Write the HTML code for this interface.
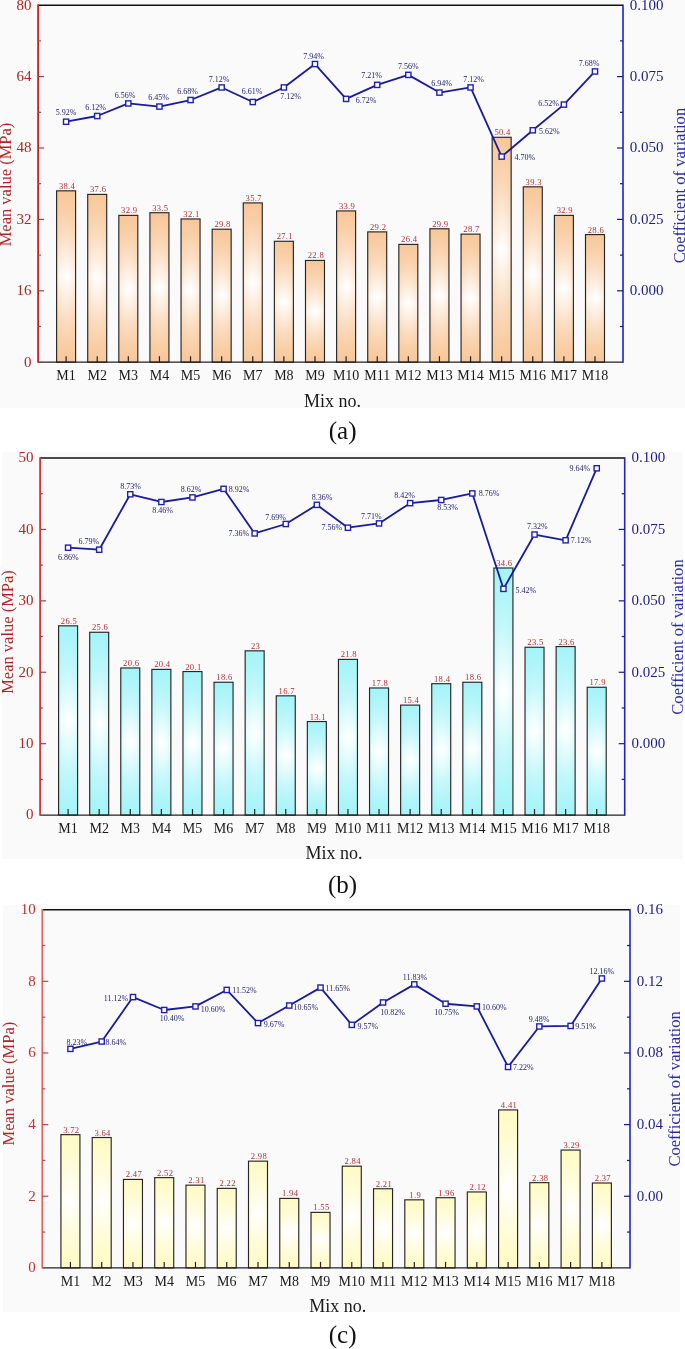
<!DOCTYPE html>
<html><head><meta charset="utf-8"><style>
html,body{margin:0;padding:0;background:#fff;}
svg{display:block;will-change:transform;}
text{font-family:"Liberation Serif",serif;}
.bl{font-size:8.6px;fill:#b03030;text-anchor:middle;letter-spacing:0.3px;}
.ll{font-size:15px;text-anchor:end;}
.rl{font-size:15px;fill:#1c1c8c;text-anchor:start;}
.xl{font-size:14px;fill:#1a1a1a;text-anchor:middle;}
.cv{font-size:8px;fill:#23236e;text-anchor:middle;}
.mix{font-size:18px;fill:#1a1a1a;text-anchor:middle;}
.yt{font-size:16.5px;fill:#b22424;text-anchor:middle;}
.rt{font-size:16.6px;fill:#2a2ab0;text-anchor:middle;}
.tag{font-size:25px;fill:#111;text-anchor:middle;}
</style></head>
<body><svg width="685" height="1349" viewBox="0 0 685 1349">
<defs><linearGradient id="ga" x1="0" y1="0" x2="0" y2="1"><stop offset="0.00" stop-color="#f8c799"/><stop offset="0.10" stop-color="#f9cea5"/><stop offset="0.25" stop-color="#fbddc2"/><stop offset="0.38" stop-color="#fdefe2"/><stop offset="0.50" stop-color="#ffffff"/><stop offset="0.62" stop-color="#fdefe2"/><stop offset="0.75" stop-color="#fbddc2"/><stop offset="0.90" stop-color="#f9cea5"/><stop offset="1.00" stop-color="#f8c799"/></linearGradient>
<linearGradient id="ha" x1="0" y1="0" x2="1" y2="0"><stop offset="0" stop-color="#f8c799" stop-opacity="0.3"/><stop offset="0.3" stop-color="#f8c799" stop-opacity="0.06"/><stop offset="0.5" stop-color="#f8c799" stop-opacity="0"/><stop offset="0.7" stop-color="#f8c799" stop-opacity="0.06"/><stop offset="1" stop-color="#f8c799" stop-opacity="0.3"/></linearGradient>
<clipPath id="clipa"><rect x="0" y="0" width="685" height="408"/></clipPath>
<linearGradient id="gb" x1="0" y1="0" x2="0" y2="1"><stop offset="0.00" stop-color="#a4f4f8"/><stop offset="0.10" stop-color="#aff5f9"/><stop offset="0.25" stop-color="#c8f8fb"/><stop offset="0.38" stop-color="#e6fcfd"/><stop offset="0.50" stop-color="#ffffff"/><stop offset="0.62" stop-color="#e6fcfd"/><stop offset="0.75" stop-color="#c8f8fb"/><stop offset="0.90" stop-color="#aff5f9"/><stop offset="1.00" stop-color="#a4f4f8"/></linearGradient>
<linearGradient id="hb" x1="0" y1="0" x2="1" y2="0"><stop offset="0" stop-color="#a4f4f8" stop-opacity="0.3"/><stop offset="0.3" stop-color="#a4f4f8" stop-opacity="0.06"/><stop offset="0.5" stop-color="#a4f4f8" stop-opacity="0"/><stop offset="0.7" stop-color="#a4f4f8" stop-opacity="0.06"/><stop offset="1" stop-color="#a4f4f8" stop-opacity="0.3"/></linearGradient>
<clipPath id="clipb"><rect x="2" y="452" width="681" height="407"/></clipPath>
<linearGradient id="gc" x1="0" y1="0" x2="0" y2="1"><stop offset="0.00" stop-color="#fffac4"/><stop offset="0.10" stop-color="#fffbcb"/><stop offset="0.25" stop-color="#fffcdc"/><stop offset="0.38" stop-color="#fffeee"/><stop offset="0.50" stop-color="#ffffff"/><stop offset="0.62" stop-color="#fffeee"/><stop offset="0.75" stop-color="#fffcdc"/><stop offset="0.90" stop-color="#fffbcb"/><stop offset="1.00" stop-color="#fffac4"/></linearGradient>
<linearGradient id="hc" x1="0" y1="0" x2="1" y2="0"><stop offset="0" stop-color="#fffac4" stop-opacity="0.3"/><stop offset="0.3" stop-color="#fffac4" stop-opacity="0.06"/><stop offset="0.5" stop-color="#fffac4" stop-opacity="0"/><stop offset="0.7" stop-color="#fffac4" stop-opacity="0.06"/><stop offset="1" stop-color="#fffac4" stop-opacity="0.3"/></linearGradient>
<clipPath id="clipc"><rect x="3" y="905" width="677" height="407"/></clipPath></defs>
<rect width="685" height="1349" fill="#fff"/>
<g><rect x="0" y="0" width="685" height="408" fill="#fafafa"/>
<rect x="56.60" y="190.84" width="19.00" height="171.36" fill="url(#ga)"/>
<rect x="56.60" y="190.84" width="19.00" height="171.36" fill="url(#ha)" stroke="#262626" stroke-width="1.15"/>
<text x="67.00" y="188.84" class="bl">38.4</text>
<rect x="87.71" y="194.41" width="19.00" height="167.79" fill="url(#ga)"/>
<rect x="87.71" y="194.41" width="19.00" height="167.79" fill="url(#ha)" stroke="#262626" stroke-width="1.15"/>
<text x="98.11" y="192.41" class="bl">37.6</text>
<rect x="118.82" y="215.38" width="19.00" height="146.82" fill="url(#ga)"/>
<rect x="118.82" y="215.38" width="19.00" height="146.82" fill="url(#ha)" stroke="#262626" stroke-width="1.15"/>
<text x="129.22" y="213.38" class="bl">32.9</text>
<rect x="149.94" y="212.71" width="19.00" height="149.49" fill="url(#ga)"/>
<rect x="149.94" y="212.71" width="19.00" height="149.49" fill="url(#ha)" stroke="#262626" stroke-width="1.15"/>
<text x="160.34" y="210.71" class="bl">33.5</text>
<rect x="181.05" y="218.95" width="19.00" height="143.25" fill="url(#ga)"/>
<rect x="181.05" y="218.95" width="19.00" height="143.25" fill="url(#ha)" stroke="#262626" stroke-width="1.15"/>
<text x="191.45" y="216.95" class="bl">32.1</text>
<rect x="212.16" y="229.22" width="19.00" height="132.98" fill="url(#ga)"/>
<rect x="212.16" y="229.22" width="19.00" height="132.98" fill="url(#ha)" stroke="#262626" stroke-width="1.15"/>
<text x="222.56" y="227.22" class="bl">29.8</text>
<rect x="243.27" y="202.89" width="19.00" height="159.31" fill="url(#ga)"/>
<rect x="243.27" y="202.89" width="19.00" height="159.31" fill="url(#ha)" stroke="#262626" stroke-width="1.15"/>
<text x="253.67" y="200.89" class="bl">35.7</text>
<rect x="274.38" y="241.27" width="19.00" height="120.93" fill="url(#ga)"/>
<rect x="274.38" y="241.27" width="19.00" height="120.93" fill="url(#ha)" stroke="#262626" stroke-width="1.15"/>
<text x="284.78" y="239.27" class="bl">27.1</text>
<rect x="305.49" y="260.45" width="19.00" height="101.75" fill="url(#ga)"/>
<rect x="305.49" y="260.45" width="19.00" height="101.75" fill="url(#ha)" stroke="#262626" stroke-width="1.15"/>
<text x="315.89" y="258.45" class="bl">22.8</text>
<rect x="336.61" y="210.92" width="19.00" height="151.28" fill="url(#ga)"/>
<rect x="336.61" y="210.92" width="19.00" height="151.28" fill="url(#ha)" stroke="#262626" stroke-width="1.15"/>
<text x="347.01" y="208.92" class="bl">33.9</text>
<rect x="367.72" y="231.89" width="19.00" height="130.31" fill="url(#ga)"/>
<rect x="367.72" y="231.89" width="19.00" height="130.31" fill="url(#ha)" stroke="#262626" stroke-width="1.15"/>
<text x="378.12" y="229.89" class="bl">29.2</text>
<rect x="398.83" y="244.39" width="19.00" height="117.81" fill="url(#ga)"/>
<rect x="398.83" y="244.39" width="19.00" height="117.81" fill="url(#ha)" stroke="#262626" stroke-width="1.15"/>
<text x="409.23" y="242.39" class="bl">26.4</text>
<rect x="429.94" y="228.77" width="19.00" height="133.43" fill="url(#ga)"/>
<rect x="429.94" y="228.77" width="19.00" height="133.43" fill="url(#ha)" stroke="#262626" stroke-width="1.15"/>
<text x="440.34" y="226.77" class="bl">29.9</text>
<rect x="461.05" y="234.13" width="19.00" height="128.07" fill="url(#ga)"/>
<rect x="461.05" y="234.13" width="19.00" height="128.07" fill="url(#ha)" stroke="#262626" stroke-width="1.15"/>
<text x="471.45" y="232.13" class="bl">28.7</text>
<rect x="492.16" y="137.29" width="19.00" height="224.91" fill="url(#ga)"/>
<rect x="492.16" y="137.29" width="19.00" height="224.91" fill="url(#ha)" stroke="#262626" stroke-width="1.15"/>
<text x="502.56" y="135.29" class="bl">50.4</text>
<rect x="523.28" y="186.82" width="19.00" height="175.38" fill="url(#ga)"/>
<rect x="523.28" y="186.82" width="19.00" height="175.38" fill="url(#ha)" stroke="#262626" stroke-width="1.15"/>
<text x="533.68" y="184.82" class="bl">39.3</text>
<rect x="554.39" y="215.38" width="19.00" height="146.82" fill="url(#ga)"/>
<rect x="554.39" y="215.38" width="19.00" height="146.82" fill="url(#ha)" stroke="#262626" stroke-width="1.15"/>
<text x="564.79" y="213.38" class="bl">32.9</text>
<rect x="585.50" y="234.57" width="19.00" height="127.63" fill="url(#ga)"/>
<rect x="585.50" y="234.57" width="19.00" height="127.63" fill="url(#ha)" stroke="#262626" stroke-width="1.15"/>
<text x="595.90" y="232.57" class="bl">28.6</text>
<line x1="66.10" y1="362.20" x2="66.10" y2="356.20" stroke="#222" stroke-width="1.2"/>
<line x1="97.21" y1="362.20" x2="97.21" y2="356.20" stroke="#222" stroke-width="1.2"/>
<line x1="128.32" y1="362.20" x2="128.32" y2="356.20" stroke="#222" stroke-width="1.2"/>
<line x1="159.44" y1="362.20" x2="159.44" y2="356.20" stroke="#222" stroke-width="1.2"/>
<line x1="190.55" y1="362.20" x2="190.55" y2="356.20" stroke="#222" stroke-width="1.2"/>
<line x1="221.66" y1="362.20" x2="221.66" y2="356.20" stroke="#222" stroke-width="1.2"/>
<line x1="252.77" y1="362.20" x2="252.77" y2="356.20" stroke="#222" stroke-width="1.2"/>
<line x1="283.88" y1="362.20" x2="283.88" y2="356.20" stroke="#222" stroke-width="1.2"/>
<line x1="314.99" y1="362.20" x2="314.99" y2="356.20" stroke="#222" stroke-width="1.2"/>
<line x1="346.11" y1="362.20" x2="346.11" y2="356.20" stroke="#222" stroke-width="1.2"/>
<line x1="377.22" y1="362.20" x2="377.22" y2="356.20" stroke="#222" stroke-width="1.2"/>
<line x1="408.33" y1="362.20" x2="408.33" y2="356.20" stroke="#222" stroke-width="1.2"/>
<line x1="439.44" y1="362.20" x2="439.44" y2="356.20" stroke="#222" stroke-width="1.2"/>
<line x1="470.55" y1="362.20" x2="470.55" y2="356.20" stroke="#222" stroke-width="1.2"/>
<line x1="501.66" y1="362.20" x2="501.66" y2="356.20" stroke="#222" stroke-width="1.2"/>
<line x1="532.78" y1="362.20" x2="532.78" y2="356.20" stroke="#222" stroke-width="1.2"/>
<line x1="563.89" y1="362.20" x2="563.89" y2="356.20" stroke="#222" stroke-width="1.2"/>
<line x1="595.00" y1="362.20" x2="595.00" y2="356.20" stroke="#222" stroke-width="1.2"/>
<line x1="38.10" y1="5.20" x2="623.00" y2="5.20" stroke="#111" stroke-width="1.5"/>
<line x1="38.10" y1="362.20" x2="623.00" y2="362.20" stroke="#222" stroke-width="1.3"/>
<line x1="38.10" y1="4.45" x2="38.10" y2="362.80" stroke="#d01c24" stroke-width="1.8"/>
<text x="31.50" y="366.50" class="ll" fill="#b22424">0</text>
<line x1="38.10" y1="326.50" x2="41.10" y2="326.50" stroke="#a04040" stroke-width="1.2"/>
<line x1="38.10" y1="290.80" x2="44.10" y2="290.80" stroke="#a04040" stroke-width="1.2"/>
<text x="31.50" y="295.10" class="ll" fill="#b22424">16</text>
<line x1="38.10" y1="255.10" x2="41.10" y2="255.10" stroke="#a04040" stroke-width="1.2"/>
<line x1="38.10" y1="219.40" x2="44.10" y2="219.40" stroke="#a04040" stroke-width="1.2"/>
<text x="31.50" y="223.70" class="ll" fill="#b22424">32</text>
<line x1="38.10" y1="183.70" x2="41.10" y2="183.70" stroke="#a04040" stroke-width="1.2"/>
<line x1="38.10" y1="148.00" x2="44.10" y2="148.00" stroke="#a04040" stroke-width="1.2"/>
<text x="31.50" y="152.30" class="ll" fill="#b22424">48</text>
<line x1="38.10" y1="112.30" x2="41.10" y2="112.30" stroke="#a04040" stroke-width="1.2"/>
<line x1="38.10" y1="76.60" x2="44.10" y2="76.60" stroke="#a04040" stroke-width="1.2"/>
<text x="31.50" y="80.90" class="ll" fill="#b22424">64</text>
<line x1="38.10" y1="40.90" x2="41.10" y2="40.90" stroke="#a04040" stroke-width="1.2"/>
<text x="31.50" y="9.50" class="ll" fill="#b22424">80</text>
<line x1="623.00" y1="4.45" x2="623.00" y2="362.80" stroke="#2222c8" stroke-width="1.6"/>
<line x1="623.00" y1="326.50" x2="620.00" y2="326.50" stroke="#1a1a80" stroke-width="1.2"/>
<line x1="623.00" y1="290.80" x2="617.00" y2="290.80" stroke="#1a1a80" stroke-width="1.2"/>
<text x="629.80" y="295.10" class="rl">0.000</text>
<line x1="623.00" y1="255.10" x2="620.00" y2="255.10" stroke="#1a1a80" stroke-width="1.2"/>
<line x1="623.00" y1="219.40" x2="617.00" y2="219.40" stroke="#1a1a80" stroke-width="1.2"/>
<text x="629.80" y="223.70" class="rl">0.025</text>
<line x1="623.00" y1="183.70" x2="620.00" y2="183.70" stroke="#1a1a80" stroke-width="1.2"/>
<line x1="623.00" y1="148.00" x2="617.00" y2="148.00" stroke="#1a1a80" stroke-width="1.2"/>
<text x="629.80" y="152.30" class="rl">0.050</text>
<line x1="623.00" y1="112.30" x2="620.00" y2="112.30" stroke="#1a1a80" stroke-width="1.2"/>
<line x1="623.00" y1="76.60" x2="617.00" y2="76.60" stroke="#1a1a80" stroke-width="1.2"/>
<text x="629.80" y="80.90" class="rl">0.075</text>
<line x1="623.00" y1="40.90" x2="620.00" y2="40.90" stroke="#1a1a80" stroke-width="1.2"/>
<text x="629.80" y="9.50" class="rl">0.100</text>
<text x="66.10" y="380.20" class="xl">M1</text>
<text x="97.21" y="380.20" class="xl">M2</text>
<text x="128.32" y="380.20" class="xl">M3</text>
<text x="159.44" y="380.20" class="xl">M4</text>
<text x="190.55" y="380.20" class="xl">M5</text>
<text x="221.66" y="380.20" class="xl">M6</text>
<text x="252.77" y="380.20" class="xl">M7</text>
<text x="283.88" y="380.20" class="xl">M8</text>
<text x="314.99" y="380.20" class="xl">M9</text>
<text x="346.11" y="380.20" class="xl">M10</text>
<text x="377.22" y="380.20" class="xl">M11</text>
<text x="408.33" y="380.20" class="xl">M12</text>
<text x="439.44" y="380.20" class="xl">M13</text>
<text x="470.55" y="380.20" class="xl">M14</text>
<text x="501.66" y="380.20" class="xl">M15</text>
<text x="532.78" y="380.20" class="xl">M16</text>
<text x="563.89" y="380.20" class="xl">M17</text>
<text x="595.00" y="380.20" class="xl">M18</text>
<polyline points="66.10,121.72 97.21,116.01 128.32,103.45 159.44,106.59 190.55,100.02 221.66,87.45 252.77,102.02 283.88,87.45 314.99,64.03 346.11,98.88 377.22,84.88 408.33,74.89 439.44,92.59 470.55,87.45 501.66,156.57 532.78,130.29 563.89,104.59 595.00,71.46" fill="none" stroke="#1a1aa0" stroke-width="1.8" stroke-linejoin="round"/>
<rect x="63.50" y="119.12" width="5.2" height="5.2" fill="#fff" stroke="#2020b8" stroke-width="1.4"/>
<rect x="94.61" y="113.41" width="5.2" height="5.2" fill="#fff" stroke="#2020b8" stroke-width="1.4"/>
<rect x="125.72" y="100.85" width="5.2" height="5.2" fill="#fff" stroke="#2020b8" stroke-width="1.4"/>
<rect x="156.84" y="103.99" width="5.2" height="5.2" fill="#fff" stroke="#2020b8" stroke-width="1.4"/>
<rect x="187.95" y="97.42" width="5.2" height="5.2" fill="#fff" stroke="#2020b8" stroke-width="1.4"/>
<rect x="219.06" y="84.85" width="5.2" height="5.2" fill="#fff" stroke="#2020b8" stroke-width="1.4"/>
<rect x="250.17" y="99.42" width="5.2" height="5.2" fill="#fff" stroke="#2020b8" stroke-width="1.4"/>
<rect x="281.28" y="84.85" width="5.2" height="5.2" fill="#fff" stroke="#2020b8" stroke-width="1.4"/>
<rect x="312.39" y="61.43" width="5.2" height="5.2" fill="#fff" stroke="#2020b8" stroke-width="1.4"/>
<rect x="343.51" y="96.28" width="5.2" height="5.2" fill="#fff" stroke="#2020b8" stroke-width="1.4"/>
<rect x="374.62" y="82.28" width="5.2" height="5.2" fill="#fff" stroke="#2020b8" stroke-width="1.4"/>
<rect x="405.73" y="72.29" width="5.2" height="5.2" fill="#fff" stroke="#2020b8" stroke-width="1.4"/>
<rect x="436.84" y="89.99" width="5.2" height="5.2" fill="#fff" stroke="#2020b8" stroke-width="1.4"/>
<rect x="467.95" y="84.85" width="5.2" height="5.2" fill="#fff" stroke="#2020b8" stroke-width="1.4"/>
<rect x="499.06" y="153.97" width="5.2" height="5.2" fill="#fff" stroke="#2020b8" stroke-width="1.4"/>
<rect x="530.18" y="127.69" width="5.2" height="5.2" fill="#fff" stroke="#2020b8" stroke-width="1.4"/>
<rect x="561.29" y="101.99" width="5.2" height="5.2" fill="#fff" stroke="#2020b8" stroke-width="1.4"/>
<rect x="592.40" y="68.86" width="5.2" height="5.2" fill="#fff" stroke="#2020b8" stroke-width="1.4"/>
<text x="66.00" y="115.10" class="cv">5.92%</text>
<text x="95.50" y="109.70" class="cv">6.12%</text>
<text x="125.10" y="98.10" class="cv">6.56%</text>
<text x="158.50" y="100.10" class="cv">6.45%</text>
<text x="187.50" y="93.70" class="cv">6.68%</text>
<text x="219.00" y="82.00" class="cv">7.12%</text>
<text x="252.00" y="94.20" class="cv">6.61%</text>
<text x="290.50" y="98.80" class="cv">7.12%</text>
<text x="313.60" y="59.20" class="cv">7.94%</text>
<text x="366.00" y="103.10" class="cv">6.72%</text>
<text x="371.70" y="78.30" class="cv">7.21%</text>
<text x="408.30" y="69.20" class="cv">7.56%</text>
<text x="441.50" y="86.00" class="cv">6.94%</text>
<text x="473.50" y="82.40" class="cv">7.12%</text>
<text x="524.80" y="159.60" class="cv">4.70%</text>
<text x="549.40" y="134.40" class="cv">5.62%</text>
<text x="548.70" y="105.90" class="cv">6.52%</text>
<text x="589.00" y="65.90" class="cv">7.68%</text>
<text x="332.40" y="406.90" class="mix" clip-path="url(#clipa)">Mix no.</text>
<text transform="translate(11.10 184.50) rotate(-90)" class="yt">Mean value (MPa)</text>
<text transform="translate(684.80 185.50) rotate(-90)" class="rt">Coefficient of variation</text></g>
<text x="342.60" y="438.80" class="tag">(a)</text>
<g><rect x="2" y="452" width="681" height="407" fill="#fafafa"/>
<rect x="58.59" y="625.84" width="19.00" height="189.26" fill="url(#gb)"/>
<rect x="58.59" y="625.84" width="19.00" height="189.26" fill="url(#hb)" stroke="#262626" stroke-width="1.15"/>
<text x="68.99" y="623.84" class="bl">26.5</text>
<rect x="89.68" y="632.26" width="19.00" height="182.84" fill="url(#gb)"/>
<rect x="89.68" y="632.26" width="19.00" height="182.84" fill="url(#hb)" stroke="#262626" stroke-width="1.15"/>
<text x="100.08" y="630.26" class="bl">25.6</text>
<rect x="120.78" y="667.97" width="19.00" height="147.13" fill="url(#gb)"/>
<rect x="120.78" y="667.97" width="19.00" height="147.13" fill="url(#hb)" stroke="#262626" stroke-width="1.15"/>
<text x="131.18" y="665.97" class="bl">20.6</text>
<rect x="151.87" y="669.40" width="19.00" height="145.70" fill="url(#gb)"/>
<rect x="151.87" y="669.40" width="19.00" height="145.70" fill="url(#hb)" stroke="#262626" stroke-width="1.15"/>
<text x="162.27" y="667.40" class="bl">20.4</text>
<rect x="182.97" y="671.55" width="19.00" height="143.55" fill="url(#gb)"/>
<rect x="182.97" y="671.55" width="19.00" height="143.55" fill="url(#hb)" stroke="#262626" stroke-width="1.15"/>
<text x="193.37" y="669.55" class="bl">20.1</text>
<rect x="214.06" y="682.26" width="19.00" height="132.84" fill="url(#gb)"/>
<rect x="214.06" y="682.26" width="19.00" height="132.84" fill="url(#hb)" stroke="#262626" stroke-width="1.15"/>
<text x="224.46" y="680.26" class="bl">18.6</text>
<rect x="245.16" y="650.83" width="19.00" height="164.27" fill="url(#gb)"/>
<rect x="245.16" y="650.83" width="19.00" height="164.27" fill="url(#hb)" stroke="#262626" stroke-width="1.15"/>
<text x="255.56" y="648.83" class="bl">23</text>
<rect x="276.26" y="695.83" width="19.00" height="119.27" fill="url(#gb)"/>
<rect x="276.26" y="695.83" width="19.00" height="119.27" fill="url(#hb)" stroke="#262626" stroke-width="1.15"/>
<text x="286.66" y="693.83" class="bl">16.7</text>
<rect x="307.35" y="721.54" width="19.00" height="93.56" fill="url(#gb)"/>
<rect x="307.35" y="721.54" width="19.00" height="93.56" fill="url(#hb)" stroke="#262626" stroke-width="1.15"/>
<text x="317.75" y="719.54" class="bl">13.1</text>
<rect x="338.45" y="659.40" width="19.00" height="155.70" fill="url(#gb)"/>
<rect x="338.45" y="659.40" width="19.00" height="155.70" fill="url(#hb)" stroke="#262626" stroke-width="1.15"/>
<text x="348.85" y="657.40" class="bl">21.8</text>
<rect x="369.54" y="687.97" width="19.00" height="127.13" fill="url(#gb)"/>
<rect x="369.54" y="687.97" width="19.00" height="127.13" fill="url(#hb)" stroke="#262626" stroke-width="1.15"/>
<text x="379.94" y="685.97" class="bl">17.8</text>
<rect x="400.64" y="705.11" width="19.00" height="109.99" fill="url(#gb)"/>
<rect x="400.64" y="705.11" width="19.00" height="109.99" fill="url(#hb)" stroke="#262626" stroke-width="1.15"/>
<text x="411.04" y="703.11" class="bl">15.4</text>
<rect x="431.74" y="683.69" width="19.00" height="131.41" fill="url(#gb)"/>
<rect x="431.74" y="683.69" width="19.00" height="131.41" fill="url(#hb)" stroke="#262626" stroke-width="1.15"/>
<text x="442.14" y="681.69" class="bl">18.4</text>
<rect x="462.83" y="682.26" width="19.00" height="132.84" fill="url(#gb)"/>
<rect x="462.83" y="682.26" width="19.00" height="132.84" fill="url(#hb)" stroke="#262626" stroke-width="1.15"/>
<text x="473.23" y="680.26" class="bl">18.6</text>
<rect x="493.93" y="567.99" width="19.00" height="247.11" fill="url(#gb)"/>
<rect x="493.93" y="567.99" width="19.00" height="247.11" fill="url(#hb)" stroke="#262626" stroke-width="1.15"/>
<text x="504.33" y="565.99" class="bl">34.6</text>
<rect x="525.02" y="647.26" width="19.00" height="167.84" fill="url(#gb)"/>
<rect x="525.02" y="647.26" width="19.00" height="167.84" fill="url(#hb)" stroke="#262626" stroke-width="1.15"/>
<text x="535.42" y="645.26" class="bl">23.5</text>
<rect x="556.12" y="646.55" width="19.00" height="168.55" fill="url(#gb)"/>
<rect x="556.12" y="646.55" width="19.00" height="168.55" fill="url(#hb)" stroke="#262626" stroke-width="1.15"/>
<text x="566.52" y="644.55" class="bl">23.6</text>
<rect x="587.21" y="687.26" width="19.00" height="127.84" fill="url(#gb)"/>
<rect x="587.21" y="687.26" width="19.00" height="127.84" fill="url(#hb)" stroke="#262626" stroke-width="1.15"/>
<text x="597.61" y="685.26" class="bl">17.9</text>
<line x1="68.09" y1="815.10" x2="68.09" y2="809.10" stroke="#222" stroke-width="1.2"/>
<line x1="99.18" y1="815.10" x2="99.18" y2="809.10" stroke="#222" stroke-width="1.2"/>
<line x1="130.28" y1="815.10" x2="130.28" y2="809.10" stroke="#222" stroke-width="1.2"/>
<line x1="161.37" y1="815.10" x2="161.37" y2="809.10" stroke="#222" stroke-width="1.2"/>
<line x1="192.47" y1="815.10" x2="192.47" y2="809.10" stroke="#222" stroke-width="1.2"/>
<line x1="223.56" y1="815.10" x2="223.56" y2="809.10" stroke="#222" stroke-width="1.2"/>
<line x1="254.66" y1="815.10" x2="254.66" y2="809.10" stroke="#222" stroke-width="1.2"/>
<line x1="285.76" y1="815.10" x2="285.76" y2="809.10" stroke="#222" stroke-width="1.2"/>
<line x1="316.85" y1="815.10" x2="316.85" y2="809.10" stroke="#222" stroke-width="1.2"/>
<line x1="347.95" y1="815.10" x2="347.95" y2="809.10" stroke="#222" stroke-width="1.2"/>
<line x1="379.04" y1="815.10" x2="379.04" y2="809.10" stroke="#222" stroke-width="1.2"/>
<line x1="410.14" y1="815.10" x2="410.14" y2="809.10" stroke="#222" stroke-width="1.2"/>
<line x1="441.24" y1="815.10" x2="441.24" y2="809.10" stroke="#222" stroke-width="1.2"/>
<line x1="472.33" y1="815.10" x2="472.33" y2="809.10" stroke="#222" stroke-width="1.2"/>
<line x1="503.43" y1="815.10" x2="503.43" y2="809.10" stroke="#222" stroke-width="1.2"/>
<line x1="534.52" y1="815.10" x2="534.52" y2="809.10" stroke="#222" stroke-width="1.2"/>
<line x1="565.62" y1="815.10" x2="565.62" y2="809.10" stroke="#222" stroke-width="1.2"/>
<line x1="596.71" y1="815.10" x2="596.71" y2="809.10" stroke="#222" stroke-width="1.2"/>
<line x1="40.10" y1="458.00" x2="624.70" y2="458.00" stroke="#111" stroke-width="1.5"/>
<line x1="40.10" y1="815.10" x2="624.70" y2="815.10" stroke="#222" stroke-width="1.3"/>
<line x1="40.10" y1="457.25" x2="40.10" y2="815.70" stroke="#d8323a" stroke-width="1.8"/>
<text x="33.50" y="819.40" class="ll" fill="#b42828">0</text>
<line x1="40.10" y1="779.39" x2="43.10" y2="779.39" stroke="#a04040" stroke-width="1.2"/>
<line x1="40.10" y1="743.68" x2="46.10" y2="743.68" stroke="#a04040" stroke-width="1.2"/>
<text x="33.50" y="747.98" class="ll" fill="#b42828">10</text>
<line x1="40.10" y1="707.97" x2="43.10" y2="707.97" stroke="#a04040" stroke-width="1.2"/>
<line x1="40.10" y1="672.26" x2="46.10" y2="672.26" stroke="#a04040" stroke-width="1.2"/>
<text x="33.50" y="676.56" class="ll" fill="#b42828">20</text>
<line x1="40.10" y1="636.55" x2="43.10" y2="636.55" stroke="#a04040" stroke-width="1.2"/>
<line x1="40.10" y1="600.84" x2="46.10" y2="600.84" stroke="#a04040" stroke-width="1.2"/>
<text x="33.50" y="605.14" class="ll" fill="#b42828">30</text>
<line x1="40.10" y1="565.13" x2="43.10" y2="565.13" stroke="#a04040" stroke-width="1.2"/>
<line x1="40.10" y1="529.42" x2="46.10" y2="529.42" stroke="#a04040" stroke-width="1.2"/>
<text x="33.50" y="533.72" class="ll" fill="#b42828">40</text>
<line x1="40.10" y1="493.71" x2="43.10" y2="493.71" stroke="#a04040" stroke-width="1.2"/>
<text x="33.50" y="462.30" class="ll" fill="#b42828">50</text>
<line x1="624.70" y1="457.25" x2="624.70" y2="815.70" stroke="#2222c8" stroke-width="1.6"/>
<line x1="624.70" y1="779.39" x2="621.70" y2="779.39" stroke="#1a1a80" stroke-width="1.2"/>
<line x1="624.70" y1="743.68" x2="618.70" y2="743.68" stroke="#1a1a80" stroke-width="1.2"/>
<text x="631.50" y="747.98" class="rl">0.000</text>
<line x1="624.70" y1="707.97" x2="621.70" y2="707.97" stroke="#1a1a80" stroke-width="1.2"/>
<line x1="624.70" y1="672.26" x2="618.70" y2="672.26" stroke="#1a1a80" stroke-width="1.2"/>
<text x="631.50" y="676.56" class="rl">0.025</text>
<line x1="624.70" y1="636.55" x2="621.70" y2="636.55" stroke="#1a1a80" stroke-width="1.2"/>
<line x1="624.70" y1="600.84" x2="618.70" y2="600.84" stroke="#1a1a80" stroke-width="1.2"/>
<text x="631.50" y="605.14" class="rl">0.050</text>
<line x1="624.70" y1="565.13" x2="621.70" y2="565.13" stroke="#1a1a80" stroke-width="1.2"/>
<line x1="624.70" y1="529.42" x2="618.70" y2="529.42" stroke="#1a1a80" stroke-width="1.2"/>
<text x="631.50" y="533.72" class="rl">0.075</text>
<line x1="624.70" y1="493.71" x2="621.70" y2="493.71" stroke="#1a1a80" stroke-width="1.2"/>
<text x="631.50" y="462.30" class="rl">0.100</text>
<text x="68.09" y="833.10" class="xl">M1</text>
<text x="99.18" y="833.10" class="xl">M2</text>
<text x="130.28" y="833.10" class="xl">M3</text>
<text x="161.37" y="833.10" class="xl">M4</text>
<text x="192.47" y="833.10" class="xl">M5</text>
<text x="223.56" y="833.10" class="xl">M6</text>
<text x="254.66" y="833.10" class="xl">M7</text>
<text x="285.76" y="833.10" class="xl">M8</text>
<text x="316.85" y="833.10" class="xl">M9</text>
<text x="347.95" y="833.10" class="xl">M10</text>
<text x="379.04" y="833.10" class="xl">M11</text>
<text x="410.14" y="833.10" class="xl">M12</text>
<text x="441.24" y="833.10" class="xl">M13</text>
<text x="472.33" y="833.10" class="xl">M14</text>
<text x="503.43" y="833.10" class="xl">M15</text>
<text x="534.52" y="833.10" class="xl">M16</text>
<text x="565.62" y="833.10" class="xl">M17</text>
<text x="596.71" y="833.10" class="xl">M18</text>
<polyline points="68.09,547.70 99.18,549.70 130.28,494.28 161.37,501.99 192.47,497.42 223.56,488.85 254.66,533.42 285.76,523.99 316.85,504.85 347.95,527.71 379.04,523.42 410.14,503.14 441.24,499.99 472.33,493.42 503.43,588.84 534.52,534.56 565.62,540.28 596.71,468.28" fill="none" stroke="#1a1aa0" stroke-width="1.8" stroke-linejoin="round"/>
<rect x="65.49" y="545.10" width="5.2" height="5.2" fill="#fff" stroke="#2020b8" stroke-width="1.4"/>
<rect x="96.58" y="547.10" width="5.2" height="5.2" fill="#fff" stroke="#2020b8" stroke-width="1.4"/>
<rect x="127.68" y="491.68" width="5.2" height="5.2" fill="#fff" stroke="#2020b8" stroke-width="1.4"/>
<rect x="158.77" y="499.39" width="5.2" height="5.2" fill="#fff" stroke="#2020b8" stroke-width="1.4"/>
<rect x="189.87" y="494.82" width="5.2" height="5.2" fill="#fff" stroke="#2020b8" stroke-width="1.4"/>
<rect x="220.96" y="486.25" width="5.2" height="5.2" fill="#fff" stroke="#2020b8" stroke-width="1.4"/>
<rect x="252.06" y="530.82" width="5.2" height="5.2" fill="#fff" stroke="#2020b8" stroke-width="1.4"/>
<rect x="283.16" y="521.39" width="5.2" height="5.2" fill="#fff" stroke="#2020b8" stroke-width="1.4"/>
<rect x="314.25" y="502.25" width="5.2" height="5.2" fill="#fff" stroke="#2020b8" stroke-width="1.4"/>
<rect x="345.35" y="525.11" width="5.2" height="5.2" fill="#fff" stroke="#2020b8" stroke-width="1.4"/>
<rect x="376.44" y="520.82" width="5.2" height="5.2" fill="#fff" stroke="#2020b8" stroke-width="1.4"/>
<rect x="407.54" y="500.54" width="5.2" height="5.2" fill="#fff" stroke="#2020b8" stroke-width="1.4"/>
<rect x="438.64" y="497.39" width="5.2" height="5.2" fill="#fff" stroke="#2020b8" stroke-width="1.4"/>
<rect x="469.73" y="490.82" width="5.2" height="5.2" fill="#fff" stroke="#2020b8" stroke-width="1.4"/>
<rect x="500.83" y="586.24" width="5.2" height="5.2" fill="#fff" stroke="#2020b8" stroke-width="1.4"/>
<rect x="531.92" y="531.96" width="5.2" height="5.2" fill="#fff" stroke="#2020b8" stroke-width="1.4"/>
<rect x="563.02" y="537.68" width="5.2" height="5.2" fill="#fff" stroke="#2020b8" stroke-width="1.4"/>
<rect x="594.11" y="465.68" width="5.2" height="5.2" fill="#fff" stroke="#2020b8" stroke-width="1.4"/>
<text x="68.30" y="560.20" class="cv">6.86%</text>
<text x="88.80" y="544.10" class="cv">6.79%</text>
<text x="130.50" y="488.60" class="cv">8.73%</text>
<text x="162.60" y="512.80" class="cv">8.46%</text>
<text x="191.00" y="491.60" class="cv">8.62%</text>
<text x="239.20" y="491.50" class="cv">8.92%</text>
<text x="238.80" y="535.90" class="cv">7.36%</text>
<text x="275.70" y="519.50" class="cv">7.69%</text>
<text x="322.20" y="500.10" class="cv">8.36%</text>
<text x="331.90" y="530.00" class="cv">7.56%</text>
<text x="371.30" y="519.10" class="cv">7.71%</text>
<text x="404.70" y="498.00" class="cv">8.42%</text>
<text x="447.50" y="510.20" class="cv">8.53%</text>
<text x="489.00" y="495.70" class="cv">8.76%</text>
<text x="525.80" y="592.50" class="cv">5.42%</text>
<text x="537.30" y="528.70" class="cv">7.32%</text>
<text x="581.00" y="543.20" class="cv">7.12%</text>
<text x="579.80" y="470.80" class="cv">9.64%</text>
<text x="334.00" y="859.40" class="mix" clip-path="url(#clipb)">Mix no.</text>
<text transform="translate(12.80 632.00) rotate(-90)" class="yt">Mean value (MPa)</text>
<text transform="translate(683.30 637.00) rotate(-90)" class="rt">Coefficient of variation</text></g>
<text x="342.50" y="892.50" class="tag">(b)</text>
<g><rect x="3" y="905" width="677" height="407" fill="#fafafa"/>
<rect x="60.93" y="1134.65" width="19.00" height="133.25" fill="url(#gc)"/>
<rect x="60.93" y="1134.65" width="19.00" height="133.25" fill="url(#hc)" stroke="#262626" stroke-width="1.15"/>
<text x="71.33" y="1132.65" class="bl">3.72</text>
<rect x="92.20" y="1137.52" width="19.00" height="130.38" fill="url(#gc)"/>
<rect x="92.20" y="1137.52" width="19.00" height="130.38" fill="url(#hc)" stroke="#262626" stroke-width="1.15"/>
<text x="102.60" y="1135.52" class="bl">3.64</text>
<rect x="123.46" y="1179.42" width="19.00" height="88.48" fill="url(#gc)"/>
<rect x="123.46" y="1179.42" width="19.00" height="88.48" fill="url(#hc)" stroke="#262626" stroke-width="1.15"/>
<text x="133.86" y="1177.42" class="bl">2.47</text>
<rect x="154.72" y="1177.63" width="19.00" height="90.27" fill="url(#gc)"/>
<rect x="154.72" y="1177.63" width="19.00" height="90.27" fill="url(#hc)" stroke="#262626" stroke-width="1.15"/>
<text x="165.12" y="1175.63" class="bl">2.52</text>
<rect x="185.98" y="1185.16" width="19.00" height="82.74" fill="url(#gc)"/>
<rect x="185.98" y="1185.16" width="19.00" height="82.74" fill="url(#hc)" stroke="#262626" stroke-width="1.15"/>
<text x="196.38" y="1183.16" class="bl">2.31</text>
<rect x="217.24" y="1188.38" width="19.00" height="79.52" fill="url(#gc)"/>
<rect x="217.24" y="1188.38" width="19.00" height="79.52" fill="url(#hc)" stroke="#262626" stroke-width="1.15"/>
<text x="227.64" y="1186.38" class="bl">2.22</text>
<rect x="248.50" y="1161.16" width="19.00" height="106.74" fill="url(#gc)"/>
<rect x="248.50" y="1161.16" width="19.00" height="106.74" fill="url(#hc)" stroke="#262626" stroke-width="1.15"/>
<text x="258.90" y="1159.16" class="bl">2.98</text>
<rect x="279.76" y="1198.41" width="19.00" height="69.49" fill="url(#gc)"/>
<rect x="279.76" y="1198.41" width="19.00" height="69.49" fill="url(#hc)" stroke="#262626" stroke-width="1.15"/>
<text x="290.16" y="1196.41" class="bl">1.94</text>
<rect x="311.02" y="1212.38" width="19.00" height="55.52" fill="url(#gc)"/>
<rect x="311.02" y="1212.38" width="19.00" height="55.52" fill="url(#hc)" stroke="#262626" stroke-width="1.15"/>
<text x="321.42" y="1210.38" class="bl">1.55</text>
<rect x="342.28" y="1166.17" width="19.00" height="101.73" fill="url(#gc)"/>
<rect x="342.28" y="1166.17" width="19.00" height="101.73" fill="url(#hc)" stroke="#262626" stroke-width="1.15"/>
<text x="352.68" y="1164.17" class="bl">2.84</text>
<rect x="373.54" y="1188.74" width="19.00" height="79.16" fill="url(#gc)"/>
<rect x="373.54" y="1188.74" width="19.00" height="79.16" fill="url(#hc)" stroke="#262626" stroke-width="1.15"/>
<text x="383.94" y="1186.74" class="bl">2.21</text>
<rect x="404.80" y="1199.84" width="19.00" height="68.06" fill="url(#gc)"/>
<rect x="404.80" y="1199.84" width="19.00" height="68.06" fill="url(#hc)" stroke="#262626" stroke-width="1.15"/>
<text x="415.20" y="1197.84" class="bl">1.9</text>
<rect x="436.06" y="1197.69" width="19.00" height="70.21" fill="url(#gc)"/>
<rect x="436.06" y="1197.69" width="19.00" height="70.21" fill="url(#hc)" stroke="#262626" stroke-width="1.15"/>
<text x="446.46" y="1195.69" class="bl">1.96</text>
<rect x="467.32" y="1191.96" width="19.00" height="75.94" fill="url(#gc)"/>
<rect x="467.32" y="1191.96" width="19.00" height="75.94" fill="url(#hc)" stroke="#262626" stroke-width="1.15"/>
<text x="477.72" y="1189.96" class="bl">2.12</text>
<rect x="498.58" y="1109.93" width="19.00" height="157.97" fill="url(#gc)"/>
<rect x="498.58" y="1109.93" width="19.00" height="157.97" fill="url(#hc)" stroke="#262626" stroke-width="1.15"/>
<text x="508.98" y="1107.93" class="bl">4.41</text>
<rect x="529.84" y="1182.65" width="19.00" height="85.25" fill="url(#gc)"/>
<rect x="529.84" y="1182.65" width="19.00" height="85.25" fill="url(#hc)" stroke="#262626" stroke-width="1.15"/>
<text x="540.24" y="1180.65" class="bl">2.38</text>
<rect x="561.10" y="1150.05" width="19.00" height="117.85" fill="url(#gc)"/>
<rect x="561.10" y="1150.05" width="19.00" height="117.85" fill="url(#hc)" stroke="#262626" stroke-width="1.15"/>
<text x="571.50" y="1148.05" class="bl">3.29</text>
<rect x="592.37" y="1183.01" width="19.00" height="84.89" fill="url(#gc)"/>
<rect x="592.37" y="1183.01" width="19.00" height="84.89" fill="url(#hc)" stroke="#262626" stroke-width="1.15"/>
<text x="602.77" y="1181.01" class="bl">2.37</text>
<line x1="70.43" y1="1267.90" x2="70.43" y2="1261.90" stroke="#222" stroke-width="1.2"/>
<line x1="101.70" y1="1267.90" x2="101.70" y2="1261.90" stroke="#222" stroke-width="1.2"/>
<line x1="132.96" y1="1267.90" x2="132.96" y2="1261.90" stroke="#222" stroke-width="1.2"/>
<line x1="164.22" y1="1267.90" x2="164.22" y2="1261.90" stroke="#222" stroke-width="1.2"/>
<line x1="195.48" y1="1267.90" x2="195.48" y2="1261.90" stroke="#222" stroke-width="1.2"/>
<line x1="226.74" y1="1267.90" x2="226.74" y2="1261.90" stroke="#222" stroke-width="1.2"/>
<line x1="258.00" y1="1267.90" x2="258.00" y2="1261.90" stroke="#222" stroke-width="1.2"/>
<line x1="289.26" y1="1267.90" x2="289.26" y2="1261.90" stroke="#222" stroke-width="1.2"/>
<line x1="320.52" y1="1267.90" x2="320.52" y2="1261.90" stroke="#222" stroke-width="1.2"/>
<line x1="351.78" y1="1267.90" x2="351.78" y2="1261.90" stroke="#222" stroke-width="1.2"/>
<line x1="383.04" y1="1267.90" x2="383.04" y2="1261.90" stroke="#222" stroke-width="1.2"/>
<line x1="414.30" y1="1267.90" x2="414.30" y2="1261.90" stroke="#222" stroke-width="1.2"/>
<line x1="445.56" y1="1267.90" x2="445.56" y2="1261.90" stroke="#222" stroke-width="1.2"/>
<line x1="476.82" y1="1267.90" x2="476.82" y2="1261.90" stroke="#222" stroke-width="1.2"/>
<line x1="508.08" y1="1267.90" x2="508.08" y2="1261.90" stroke="#222" stroke-width="1.2"/>
<line x1="539.34" y1="1267.90" x2="539.34" y2="1261.90" stroke="#222" stroke-width="1.2"/>
<line x1="570.60" y1="1267.90" x2="570.60" y2="1261.90" stroke="#222" stroke-width="1.2"/>
<line x1="601.87" y1="1267.90" x2="601.87" y2="1261.90" stroke="#222" stroke-width="1.2"/>
<line x1="42.30" y1="909.70" x2="630.00" y2="909.70" stroke="#111" stroke-width="1.5"/>
<line x1="42.30" y1="1267.90" x2="630.00" y2="1267.90" stroke="#222" stroke-width="1.3"/>
<line x1="42.30" y1="908.95" x2="42.30" y2="1268.50" stroke="#e46464" stroke-width="1.8"/>
<text x="35.70" y="1272.20" class="ll" fill="#c03232">0</text>
<line x1="42.30" y1="1232.08" x2="45.30" y2="1232.08" stroke="#c04848" stroke-width="1.2"/>
<line x1="42.30" y1="1196.26" x2="48.30" y2="1196.26" stroke="#c04848" stroke-width="1.2"/>
<text x="35.70" y="1200.56" class="ll" fill="#c03232">2</text>
<line x1="42.30" y1="1160.44" x2="45.30" y2="1160.44" stroke="#c04848" stroke-width="1.2"/>
<line x1="42.30" y1="1124.62" x2="48.30" y2="1124.62" stroke="#c04848" stroke-width="1.2"/>
<text x="35.70" y="1128.92" class="ll" fill="#c03232">4</text>
<line x1="42.30" y1="1088.80" x2="45.30" y2="1088.80" stroke="#c04848" stroke-width="1.2"/>
<line x1="42.30" y1="1052.98" x2="48.30" y2="1052.98" stroke="#c04848" stroke-width="1.2"/>
<text x="35.70" y="1057.28" class="ll" fill="#c03232">6</text>
<line x1="42.30" y1="1017.16" x2="45.30" y2="1017.16" stroke="#c04848" stroke-width="1.2"/>
<line x1="42.30" y1="981.34" x2="48.30" y2="981.34" stroke="#c04848" stroke-width="1.2"/>
<text x="35.70" y="985.64" class="ll" fill="#c03232">8</text>
<line x1="42.30" y1="945.52" x2="45.30" y2="945.52" stroke="#c04848" stroke-width="1.2"/>
<text x="35.70" y="914.00" class="ll" fill="#c03232">10</text>
<line x1="630.00" y1="908.95" x2="630.00" y2="1268.50" stroke="#2222c8" stroke-width="1.6"/>
<line x1="630.00" y1="1232.08" x2="627.00" y2="1232.08" stroke="#1a1a80" stroke-width="1.2"/>
<line x1="630.00" y1="1196.26" x2="624.00" y2="1196.26" stroke="#1a1a80" stroke-width="1.2"/>
<text x="636.80" y="1200.56" class="rl">0.00</text>
<line x1="630.00" y1="1160.44" x2="627.00" y2="1160.44" stroke="#1a1a80" stroke-width="1.2"/>
<line x1="630.00" y1="1124.62" x2="624.00" y2="1124.62" stroke="#1a1a80" stroke-width="1.2"/>
<text x="636.80" y="1128.92" class="rl">0.04</text>
<line x1="630.00" y1="1088.80" x2="627.00" y2="1088.80" stroke="#1a1a80" stroke-width="1.2"/>
<line x1="630.00" y1="1052.98" x2="624.00" y2="1052.98" stroke="#1a1a80" stroke-width="1.2"/>
<text x="636.80" y="1057.28" class="rl">0.08</text>
<line x1="630.00" y1="1017.16" x2="627.00" y2="1017.16" stroke="#1a1a80" stroke-width="1.2"/>
<line x1="630.00" y1="981.34" x2="624.00" y2="981.34" stroke="#1a1a80" stroke-width="1.2"/>
<text x="636.80" y="985.64" class="rl">0.12</text>
<line x1="630.00" y1="945.52" x2="627.00" y2="945.52" stroke="#1a1a80" stroke-width="1.2"/>
<text x="636.80" y="914.00" class="rl">0.16</text>
<text x="70.43" y="1285.90" class="xl">M1</text>
<text x="101.70" y="1285.90" class="xl">M2</text>
<text x="132.96" y="1285.90" class="xl">M3</text>
<text x="164.22" y="1285.90" class="xl">M4</text>
<text x="195.48" y="1285.90" class="xl">M5</text>
<text x="226.74" y="1285.90" class="xl">M6</text>
<text x="258.00" y="1285.90" class="xl">M7</text>
<text x="289.26" y="1285.90" class="xl">M8</text>
<text x="320.52" y="1285.90" class="xl">M9</text>
<text x="351.78" y="1285.90" class="xl">M10</text>
<text x="383.04" y="1285.90" class="xl">M11</text>
<text x="414.30" y="1285.90" class="xl">M12</text>
<text x="445.56" y="1285.90" class="xl">M13</text>
<text x="476.82" y="1285.90" class="xl">M14</text>
<text x="508.08" y="1285.90" class="xl">M15</text>
<text x="539.34" y="1285.90" class="xl">M16</text>
<text x="570.60" y="1285.90" class="xl">M17</text>
<text x="601.87" y="1285.90" class="xl">M18</text>
<polyline points="70.43,1048.86 101.70,1041.52 132.96,997.10 164.22,1010.00 195.48,1006.41 226.74,989.94 258.00,1023.07 289.26,1005.52 320.52,987.61 351.78,1024.86 383.04,1002.47 414.30,984.38 445.56,1003.73 476.82,1006.41 508.08,1066.95 539.34,1026.47 570.60,1025.94 601.87,978.47" fill="none" stroke="#1a1aa0" stroke-width="1.8" stroke-linejoin="round"/>
<rect x="67.83" y="1046.26" width="5.2" height="5.2" fill="#fff" stroke="#2020b8" stroke-width="1.4"/>
<rect x="99.10" y="1038.92" width="5.2" height="5.2" fill="#fff" stroke="#2020b8" stroke-width="1.4"/>
<rect x="130.36" y="994.50" width="5.2" height="5.2" fill="#fff" stroke="#2020b8" stroke-width="1.4"/>
<rect x="161.62" y="1007.40" width="5.2" height="5.2" fill="#fff" stroke="#2020b8" stroke-width="1.4"/>
<rect x="192.88" y="1003.81" width="5.2" height="5.2" fill="#fff" stroke="#2020b8" stroke-width="1.4"/>
<rect x="224.14" y="987.34" width="5.2" height="5.2" fill="#fff" stroke="#2020b8" stroke-width="1.4"/>
<rect x="255.40" y="1020.47" width="5.2" height="5.2" fill="#fff" stroke="#2020b8" stroke-width="1.4"/>
<rect x="286.66" y="1002.92" width="5.2" height="5.2" fill="#fff" stroke="#2020b8" stroke-width="1.4"/>
<rect x="317.92" y="985.01" width="5.2" height="5.2" fill="#fff" stroke="#2020b8" stroke-width="1.4"/>
<rect x="349.18" y="1022.26" width="5.2" height="5.2" fill="#fff" stroke="#2020b8" stroke-width="1.4"/>
<rect x="380.44" y="999.87" width="5.2" height="5.2" fill="#fff" stroke="#2020b8" stroke-width="1.4"/>
<rect x="411.70" y="981.78" width="5.2" height="5.2" fill="#fff" stroke="#2020b8" stroke-width="1.4"/>
<rect x="442.96" y="1001.13" width="5.2" height="5.2" fill="#fff" stroke="#2020b8" stroke-width="1.4"/>
<rect x="474.22" y="1003.81" width="5.2" height="5.2" fill="#fff" stroke="#2020b8" stroke-width="1.4"/>
<rect x="505.48" y="1064.35" width="5.2" height="5.2" fill="#fff" stroke="#2020b8" stroke-width="1.4"/>
<rect x="536.74" y="1023.87" width="5.2" height="5.2" fill="#fff" stroke="#2020b8" stroke-width="1.4"/>
<rect x="568.00" y="1023.34" width="5.2" height="5.2" fill="#fff" stroke="#2020b8" stroke-width="1.4"/>
<rect x="599.27" y="975.87" width="5.2" height="5.2" fill="#fff" stroke="#2020b8" stroke-width="1.4"/>
<text x="76.80" y="1044.60" class="cv">8.23%</text>
<text x="115.90" y="1044.60" class="cv">8.64%</text>
<text x="115.90" y="1000.80" class="cv">11.12%</text>
<text x="172.10" y="1021.20" class="cv">10.40%</text>
<text x="213.00" y="1011.80" class="cv">10.60%</text>
<text x="244.50" y="992.90" class="cv">11.52%</text>
<text x="274.10" y="1027.00" class="cv">9.67%</text>
<text x="305.80" y="1010.40" class="cv">10.65%</text>
<text x="337.70" y="991.10" class="cv">11.65%</text>
<text x="367.90" y="1028.50" class="cv">9.57%</text>
<text x="392.60" y="1014.50" class="cv">10.82%</text>
<text x="415.00" y="979.70" class="cv">11.83%</text>
<text x="446.60" y="1015.40" class="cv">10.75%</text>
<text x="494.30" y="1009.50" class="cv">10.60%</text>
<text x="523.40" y="1070.20" class="cv">7.22%</text>
<text x="539.00" y="1022.10" class="cv">9.48%</text>
<text x="585.50" y="1028.70" class="cv">9.51%</text>
<text x="601.80" y="973.90" class="cv">12.16%</text>
<text x="337.70" y="1312.40" class="mix" clip-path="url(#clipc)">Mix no.</text>
<text transform="translate(14.30 1083.60) rotate(-90)" class="yt">Mean value (MPa)</text>
<text transform="translate(680.00 1088.90) rotate(-90)" class="rt">Coefficient of variation</text></g>
<text x="342.60" y="1342.70" class="tag">(c)</text>
</svg></body></html>
